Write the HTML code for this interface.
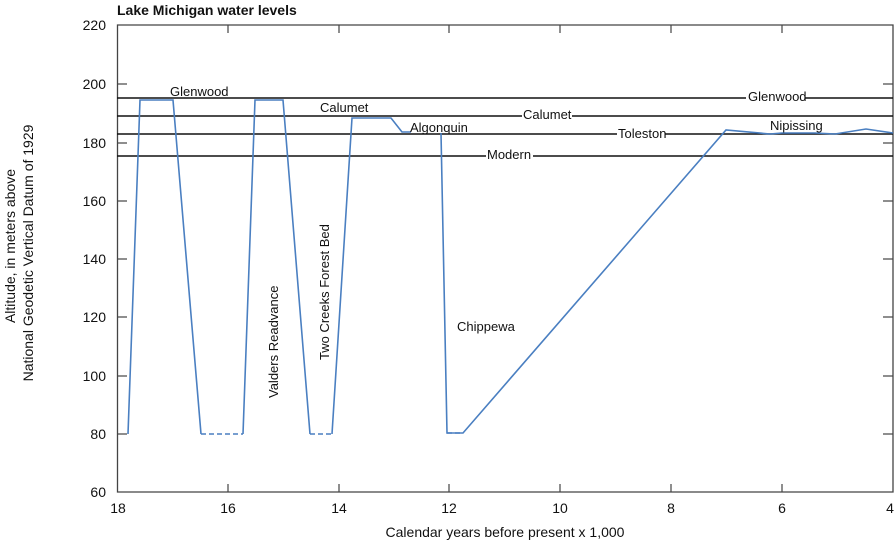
<!DOCTYPE html>
<html><head><meta charset="utf-8"><style>
html,body{margin:0;padding:0;background:#fff}
text{font-family:"Liberation Sans Narrow","Liberation Sans",sans-serif;font-size:13px;fill:#111}
</style></head><body>
<svg width="895" height="543" viewBox="0 0 895 543" xmlns="http://www.w3.org/2000/svg">
<text x="117" y="15" style="font-weight:bold;font-size:14px">Lake Michigan water levels</text>
<g stroke="#444" stroke-width="1.3" fill="none">
<path d="M117.5,25 H893 V492 H117.5 Z"/>
</g>
<g stroke="#444" stroke-width="1.2">
<line x1="117" y1="84" x2="127" y2="84"/><line x1="117" y1="143" x2="127" y2="143"/>
<line x1="117" y1="201" x2="127" y2="201"/><line x1="117" y1="259" x2="127" y2="259"/>
<line x1="117" y1="317" x2="127" y2="317"/><line x1="117" y1="376" x2="127" y2="376"/>
<line x1="117" y1="434" x2="127" y2="434"/>
<line x1="883" y1="84" x2="893" y2="84"/><line x1="883" y1="143" x2="893" y2="143"/>
<line x1="883" y1="201" x2="893" y2="201"/><line x1="883" y1="259" x2="893" y2="259"/>
<line x1="883" y1="317" x2="893" y2="317"/><line x1="883" y1="376" x2="893" y2="376"/>
<line x1="883" y1="434" x2="893" y2="434"/>
<line x1="228" y1="25" x2="228" y2="33"/><line x1="339" y1="25" x2="339" y2="33"/><line x1="449" y1="25" x2="449" y2="33"/>
<line x1="560" y1="25" x2="560" y2="33"/><line x1="671" y1="25" x2="671" y2="33"/><line x1="782" y1="25" x2="782" y2="33"/>
<line x1="228" y1="484" x2="228" y2="492"/><line x1="339" y1="484" x2="339" y2="492"/><line x1="449" y1="484" x2="449" y2="492"/>
<line x1="560" y1="484" x2="560" y2="492"/><line x1="671" y1="484" x2="671" y2="492"/><line x1="782" y1="484" x2="782" y2="492"/>
</g>
<g text-anchor="end" style="font-size:14px">
<text x="106" y="30" style="font-size:14px">220</text><text x="106" y="89" style="font-size:14px">200</text><text x="106" y="148" style="font-size:14px">180</text>
<text x="106" y="206" style="font-size:14px">160</text><text x="106" y="264" style="font-size:14px">140</text><text x="106" y="322" style="font-size:14px">120</text>
<text x="106" y="381" style="font-size:14px">100</text><text x="106" y="439" style="font-size:14px">80</text><text x="106" y="497" style="font-size:14px">60</text>
</g>
<g text-anchor="middle">
<text x="118" y="513" style="font-size:14px">18</text><text x="228" y="513" style="font-size:14px">16</text><text x="339" y="513" style="font-size:14px">14</text>
<text x="449" y="513" style="font-size:14px">12</text><text x="560" y="513" style="font-size:14px">10</text><text x="671" y="513" style="font-size:14px">8</text>
<text x="782" y="513" style="font-size:14px">6</text><text x="890" y="513" style="font-size:14px">4</text>
<text x="505" y="537" style="font-size:14px">Calendar years before present x 1,000</text>
<text transform="translate(15,246) rotate(-90)" style="font-size:14px">Altitude, in meters above</text>
<text transform="translate(33,253) rotate(-90)" style="font-size:14px">National Geodetic Vertical Datum of 1929</text>
</g>
<g stroke="#111" stroke-width="1.6">
<line x1="117" y1="98" x2="893" y2="98"/>
<line x1="117" y1="116" x2="893" y2="116"/>
<line x1="117" y1="134" x2="893" y2="134"/>
<line x1="117" y1="156" x2="893" y2="156"/>
</g>
<g stroke="#4a7fc1" stroke-width="1.6" fill="none">
<polyline points="128,434 140,100 173,100 201,434"/>
<polyline points="243,434 255,100 283,100 310,434"/>
<polyline points="332,434 352,118 391,118 402,132 411,132"/>
<polyline points="441,133 447,433 463,433 726,130 770,134 782,133 815,133 835,134 866,129 893,133"/>
<g stroke-dasharray="5,3">
<line x1="201" y1="434" x2="243" y2="434"/>
<line x1="310" y1="434" x2="332" y2="434"/>
<line x1="447" y1="433" x2="463" y2="433"/>
</g>
</g>
<g>
<rect x="746" y="90" width="59" height="14" fill="#fff"/>
<text x="748" y="101">Glenwood</text>
<rect x="522" y="108" width="50" height="14" fill="#fff"/>
<text x="523" y="119">Calumet</text>
<rect x="617" y="127" width="48" height="14" fill="#fff"/>
<text x="618" y="138">Toleston</text>
<rect x="486" y="148" width="47" height="14" fill="#fff"/>
<text x="487" y="159">Modern</text>
<rect x="769" y="120" width="52" height="12" fill="#fff"/>
<text x="770" y="130">Nipissing</text>
<text x="410" y="132">Algonquin</text>
<text x="170" y="96">Glenwood</text>
<text x="320" y="112">Calumet</text>
<text x="457" y="331">Chippewa</text>
<text transform="translate(278,398) rotate(-90)">Valders Readvance</text>
<text transform="translate(329,360) rotate(-90)">Two Creeks Forest Bed</text>
</g>
</svg>
</body></html>
